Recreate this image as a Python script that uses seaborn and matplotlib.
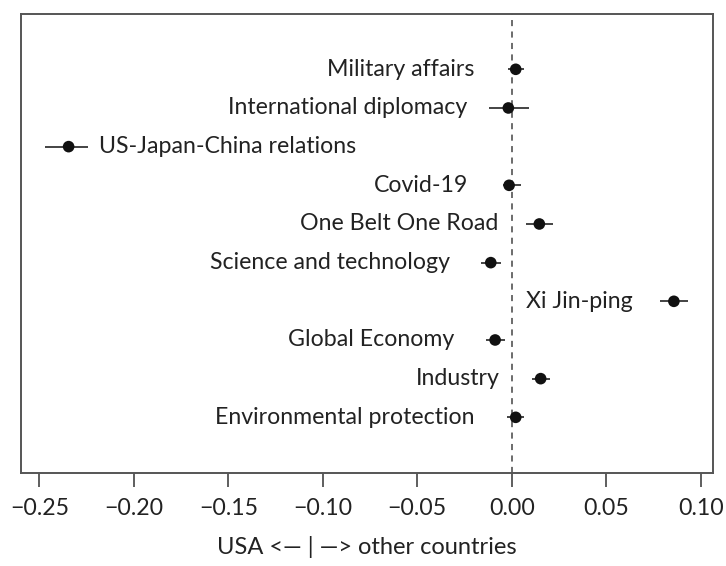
import numpy as np
import pandas as pd
import matplotlib
matplotlib.use("Agg")
import matplotlib.pyplot as plt
import seaborn as sns

# Topic effects: point estimate with lower/upper interval bounds
topics = ["Military affairs", "International diplomacy", "US-Japan-China relations",
          "Covid-19", "One Belt One Road", "Science and technology", "Xi Jin-ping",
          "Global Economy", "Industry", "Environmental protection"]
estimate = [0.0021, -0.0018, -0.2345, -0.0014, 0.0146, -0.0111, 0.0858, -0.0088, 0.0153, 0.0021]
lower = [-0.0018, -0.0119, -0.2469, -0.0044, 0.0076, -0.0164, 0.0785, -0.0138, 0.0109, -0.0026]
upper = [0.0067, 0.0092, -0.2240, 0.0048, 0.0220, -0.0057, 0.0934, -0.0037, 0.0203, 0.0067]
label_side = ["left", "left", "right", "left", "left", "left", "left", "left", "left", "left"]
x_ticks = [-0.25, -0.20, -0.15, -0.10, -0.05, 0.00, 0.05, 0.10]
x_title = "USA <\u2014 | \u2014> other countries"

df = pd.DataFrame({"topic": topics, "estimate": estimate, "lower": lower,
                   "upper": upper, "side": label_side})
df["pos"] = np.arange(len(df), 0, -1)

sns.set_theme(style="white")
plt.rcParams["font.family"] = ["Lato", "DejaVu Sans"]

FS = 16.7
fig = plt.figure(figsize=(7.26, 5.66), dpi=100)
ax = fig.add_axes([21 / 726, 1 - 473 / 566, 692 / 726, 459 / 566])

ax.axvline(0, color="#444444", lw=1.1, ls=(0, (4, 3.5)), zorder=1)
ax.hlines(df["pos"], df["lower"], df["upper"], color="#111111", lw=1.1, zorder=2)
sns.scatterplot(data=df, x="estimate", y="pos", ax=ax, color="#111111",
                s=70, edgecolor="none", zorder=3, legend=False)

# topic names sit beside their points
for _, r in df.iterrows():
    if r["side"] == "left":
        ax.annotate(r["topic"], (r["estimate"], r["pos"]), xytext=(-29.5, 0),
                    textcoords="offset points", ha="right", va="center",
                    fontsize=FS, color="#222222")
    else:
        ax.annotate(r["topic"], (r["estimate"], r["pos"]), xytext=(22, 0),
                    textcoords="offset points", ha="left", va="center",
                    fontsize=FS, color="#222222")

ax.set_xlim(-0.2597, 0.1065)
ax.set_ylim(-0.44, 11.43)
ax.set_xticks(x_ticks)
ax.set_xticklabels([f"{t:.2f}".replace("-", "\u2212") for t in x_ticks])
ax.set_yticks([])
ax.set_xlabel(x_title, fontsize=17, color="#222222", labelpad=12)
ax.set_ylabel("")
ax.tick_params(axis="x", bottom=True, length=10, width=1.1, color="#333333",
               labelsize=FS, labelcolor="#222222", pad=8)
for sp in ax.spines.values():
    sp.set_visible(True)
    sp.set_color("#555555")
    sp.set_linewidth(1.4)

fig.savefig("out.png", dpi=100)
